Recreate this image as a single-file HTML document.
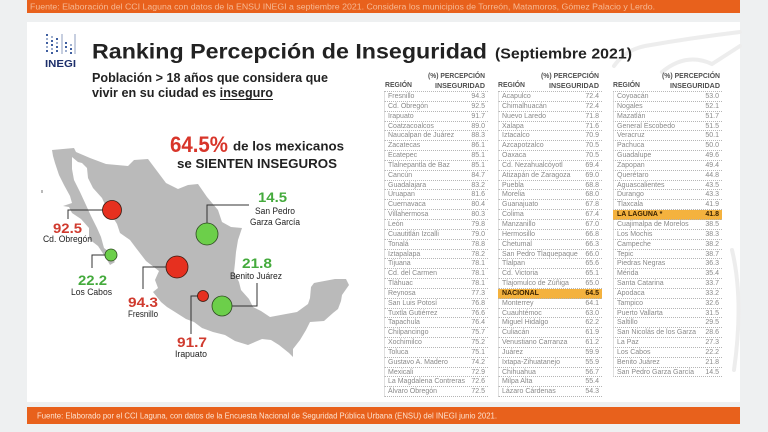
<!DOCTYPE html>
<html><head><meta charset="utf-8">
<style>
body{margin:0;width:768px;height:432px;overflow:hidden;background:#eef0f1;position:relative;font-family:"Liberation Sans",sans-serif}
svg{position:absolute;left:0;top:0}
.tb{position:absolute;top:91px;font-family:"Liberation Sans Narrow","Liberation Sans",sans-serif;font-size:7px;color:#8a8a8a;border-top:1px dotted #b8b8b8}
.tb div{height:9.85px;box-sizing:border-box;border-bottom:1px dotted #b5b5b5;border-left:1px solid #e0e0e0;display:flex;justify-content:space-between;padding:0 3px 0 3px;line-height:9.5px;white-space:nowrap}
.tb div.h{background:#f4b23e;color:#3a2200;font-weight:bold;border-left-color:#f4b23e}
</style></head>
<body>
<svg width="768" height="432" viewBox="0 0 768 432" xmlns="http://www.w3.org/2000/svg">
<!-- top bar -->
<rect x="27" y="0" width="713" height="13" fill="#e8611c"/>
<text x="30" y="9.5" font-size="8.5" fill="#f6b994" textLength="625" lengthAdjust="spacingAndGlyphs" font-family="Liberation Sans Narrow, Liberation Sans, sans-serif">Fuente: Elaboración del CCI Laguna con datos de la ENSU INEGI a septiembre 2021. Considera los municipios de Torreón, Matamoros, Gómez Palacio y Lerdo.</text>
<!-- card -->
<rect x="27" y="22" width="713" height="380" fill="#ffffff"/>
<!-- watermark -->
<g fill="none" stroke="#ededed" stroke-width="4" stroke-linecap="round">
<path d="M740 32 Q690 38 645 46 Q625 50 614 66"/>
<path d="M662 72 Q686 52 712 64 L740 46"/>
<path d="M732 250 Q744 300 734 370"/>
</g>
<!-- bottom bar -->
<rect x="27" y="407" width="713" height="17" fill="#e8611c"/>
<text x="37" y="418.5" font-size="8" fill="#fde3d0" textLength="460" lengthAdjust="spacingAndGlyphs" font-family="Liberation Sans Narrow, Liberation Sans, sans-serif">Fuente: Elaborado por el CCI Laguna, con datos de la Encuesta Nacional de Seguridad Pública Urbana (ENSU) del INEGI junio 2021.</text>

<!-- logo -->
<g fill="#3f5fa0">
<rect x="46" y="34" width="2" height="2"/><rect x="46" y="38" width="2" height="2" fill="#9fb0cf"/><rect x="46" y="42" width="2" height="2"/><rect x="46" y="46" width="2" height="2" fill="#9fb0cf"/><rect x="46" y="50" width="2" height="2"/>
<rect x="51" y="36" width="2" height="2" fill="#9fb0cf"/><rect x="51" y="40" width="2" height="2"/><rect x="51" y="44" width="2" height="2"/><rect x="51" y="48" width="2" height="2" fill="#9fb0cf"/><rect x="51" y="52" width="2" height="2"/>
<rect x="56" y="38" width="2" height="2"/><rect x="56" y="42" width="2" height="2" fill="#9fb0cf"/><rect x="56" y="46" width="2" height="2"/><rect x="56" y="50" width="2" height="2"/>
<rect x="61" y="34" width="2" height="20" fill="#c7cfe0"/>
<rect x="65" y="42" width="2" height="2"/><rect x="65" y="46" width="2" height="2"/><rect x="65" y="50" width="2" height="2" fill="#9fb0cf"/>
<rect x="70" y="44" width="2" height="2" fill="#9fb0cf"/><rect x="70" y="48" width="2" height="2"/><rect x="70" y="52" width="2" height="2"/>
<rect x="74" y="34" width="2" height="20" fill="#c7cfe0"/>
</g>
<text x="45" y="67" font-size="10" font-weight="bold" fill="#1d2f6b" textLength="31" lengthAdjust="spacingAndGlyphs">INEGI</text>

<!-- title -->
<text x="92" y="58.5" font-size="21.5" font-weight="bold" fill="#222" textLength="395" lengthAdjust="spacingAndGlyphs">Ranking Percepción de Inseguridad</text>
<text x="495" y="58.5" font-size="15" font-weight="bold" fill="#222" textLength="137" lengthAdjust="spacingAndGlyphs">(Septiembre 2021)</text>
<text x="92" y="82" font-size="12.5" font-weight="bold" fill="#222" textLength="236" lengthAdjust="spacingAndGlyphs">Población &gt; 18 años que considera que</text>
<text x="92" y="97" font-size="12.5" font-weight="bold" fill="#222" textLength="181" lengthAdjust="spacingAndGlyphs">vivir en su ciudad es inseguro</text>
<line x1="220" y1="99.5" x2="273" y2="99.5" stroke="#222" stroke-width="1"/>

<!-- headline over map -->
<text x="170" y="152" font-size="22" font-weight="bold" fill="#d8352a" textLength="58" lengthAdjust="spacingAndGlyphs">64.5%</text>
<text x="233" y="150.5" font-size="13" font-weight="bold" fill="#222" textLength="111" lengthAdjust="spacingAndGlyphs">de los mexicanos</text>
<text x="177" y="168" font-size="13" font-weight="bold" fill="#222" textLength="160" lengthAdjust="spacingAndGlyphs">se SIENTEN INSEGUROS</text>

<!-- map -->
<path fill="#bababa" d="M52,150 L74,148 L76,152 L90,158 L106,164 L128,166 L134,160 L148,159 L166,183 L178,189 L188,185 L198,184 L207,197 L218,210 L222,222 L231,227 L242,228 L238,240 L236,252 L235,263 L234,272 L239,282 L241,290 L249,299 L253,307 L261,311 L270,317 L286,314 L297,312 L308,304 L310,298 L311,287 L314,283 L319,282 L335,279 L346,279 L349,285 L342,295 L341,301 L338,309 L333,313 L324,321 L310,322 L306,330 L300,340 L293,349 L293,357 L289,353 L279,345 L271,340 L262,339 L248,345 L235,341 L225,335 L213,332 L202,328 L194,322 L186,319 L175,312 L167,307 L161,302 L153,292 L158,288 L155,280 L159,271 L146,261 L136,248 L130,240 L120,233 L117,224 L112,216 L107,209 L102,198 L93,188 L88,178 L87,168 L82,163 L78,162 L72,157 L72,169 L74,180 L80,192 L86,205 L91,216 L97,228 L101,237 L104,248 L108,251 L111,258 L115,262 L110,265 L106,258 L98,246 L89,239 L89,228 L81,219 L72,213 L69,207 L63,206 L72,203 L70,196 L64,185 L59,175 L55,163 L53,156 Z"/>
<rect x="41" y="190" width="2" height="3" fill="#bababa"/>

<!-- leaders -->
<g fill="none" stroke="#333" stroke-width="1">
<polyline points="103,210 68,210 68,219"/>
<polyline points="105,255 92,255 92,268"/>
<polyline points="166,267 143,267 143,289"/>
<polyline points="207,223 207,205 249,205"/>
<polyline points="232,306 257,306 257,283"/>
<polyline points="197.5,296 191,296 191,334"/>
</g>
<!-- circles -->
<circle cx="112" cy="210" r="9.5" fill="#e6301f" stroke="#3a1a10" stroke-width="0.8"/>
<circle cx="111" cy="255" r="6" fill="#6ccf4a" stroke="#2d4a20" stroke-width="0.8"/>
<circle cx="177" cy="267" r="11" fill="#e6301f" stroke="#3a1a10" stroke-width="0.8"/>
<circle cx="207" cy="234" r="11" fill="#6ccf4a" stroke="#2d4a20" stroke-width="0.8"/>
<circle cx="222" cy="306" r="10" fill="#6ccf4a" stroke="#2d4a20" stroke-width="0.8"/>
<circle cx="203" cy="296" r="5.5" fill="#e6301f" stroke="#3a1a10" stroke-width="0.8"/>

<!-- labels -->
<g font-size="14" font-weight="bold">
<text x="258" y="202" fill="#44aa3c" textLength="29" lengthAdjust="spacingAndGlyphs">14.5</text>
<text x="53" y="233" fill="#d03a2e" textLength="29" lengthAdjust="spacingAndGlyphs">92.5</text>
<text x="78" y="285" fill="#44aa3c" textLength="29" lengthAdjust="spacingAndGlyphs">22.2</text>
<text x="128" y="307" fill="#d03a2e" textLength="30" lengthAdjust="spacingAndGlyphs">94.3</text>
<text x="242" y="268" fill="#44aa3c" textLength="30" lengthAdjust="spacingAndGlyphs">21.8</text>
<text x="177" y="347" fill="#d03a2e" textLength="30" lengthAdjust="spacingAndGlyphs">91.7</text>
</g>
<g font-size="9" fill="#222">
<text x="255" y="214" textLength="40" lengthAdjust="spacingAndGlyphs">San Pedro</text>
<text x="250" y="225" textLength="50" lengthAdjust="spacingAndGlyphs">Garza García</text>
<text x="43" y="242" textLength="49" lengthAdjust="spacingAndGlyphs">Cd. Obregón</text>
<text x="71" y="295" textLength="41" lengthAdjust="spacingAndGlyphs">Los Cabos</text>
<text x="128" y="317" textLength="30" lengthAdjust="spacingAndGlyphs">Fresnillo</text>
<text x="230" y="279" textLength="52" lengthAdjust="spacingAndGlyphs">Benito Juárez</text>
<text x="175" y="357" textLength="32" lengthAdjust="spacingAndGlyphs">Irapuato</text>
</g>

<!-- table headers -->
<g font-size="7.5" font-weight="bold" fill="#505050">
<text x="385" y="87" textLength="27" lengthAdjust="spacingAndGlyphs">REGIÓN</text>
<text x="428" y="78" textLength="57" lengthAdjust="spacingAndGlyphs">(%) PERCEPCIÓN</text>
<text x="435" y="88" textLength="50" lengthAdjust="spacingAndGlyphs">INSEGURIDAD</text>
<text x="498" y="87" textLength="27" lengthAdjust="spacingAndGlyphs">REGIÓN</text>
<text x="541" y="78" textLength="58" lengthAdjust="spacingAndGlyphs">(%) PERCEPCIÓN</text>
<text x="549" y="88" textLength="50" lengthAdjust="spacingAndGlyphs">INSEGURIDAD</text>
<text x="613" y="87" textLength="27" lengthAdjust="spacingAndGlyphs">REGIÓN</text>
<text x="662" y="78" textLength="58" lengthAdjust="spacingAndGlyphs">(%) PERCEPCIÓN</text>
<text x="670" y="88" textLength="50" lengthAdjust="spacingAndGlyphs">INSEGURIDAD</text>
</g>
</svg>

<div class="tb" style="left:384px;width:104px">
<div><span>Fresnillo</span><span>94.3</span></div>
<div><span>Cd. Obregón</span><span>92.5</span></div>
<div><span>Irapuato</span><span>91.7</span></div>
<div><span>Coatzacoalcos</span><span>89.0</span></div>
<div><span>Naucalpan de Juárez</span><span>88.3</span></div>
<div><span>Zacatecas</span><span>86.1</span></div>
<div><span>Ecatepec</span><span>85.1</span></div>
<div><span>Tlalnepantla de Baz</span><span>85.1</span></div>
<div><span>Cancún</span><span>84.7</span></div>
<div><span>Guadalajara</span><span>83.2</span></div>
<div><span>Uruapan</span><span>81.6</span></div>
<div><span>Cuernavaca</span><span>80.4</span></div>
<div><span>Villahermosa</span><span>80.3</span></div>
<div><span>León</span><span>79.8</span></div>
<div><span>Cuautitlán Izcalli</span><span>79.0</span></div>
<div><span>Tonalá</span><span>78.8</span></div>
<div><span>Iztapalapa</span><span>78.2</span></div>
<div><span>Tijuana</span><span>78.1</span></div>
<div><span>Cd. del Carmen</span><span>78.1</span></div>
<div><span>Tláhuac</span><span>78.1</span></div>
<div><span>Reynosa</span><span>77.3</span></div>
<div><span>San Luis Potosí</span><span>76.8</span></div>
<div><span>Tuxtla Gutiérrez</span><span>76.6</span></div>
<div><span>Tapachula</span><span>76.4</span></div>
<div><span>Chilpancingo</span><span>75.7</span></div>
<div><span>Xochimilco</span><span>75.2</span></div>
<div><span>Toluca</span><span>75.1</span></div>
<div><span>Gustavo A. Madero</span><span>74.2</span></div>
<div><span>Mexicali</span><span>72.9</span></div>
<div><span>La Magdalena Contreras</span><span>72.6</span></div>
<div><span>Álvaro Obregón</span><span>72.5</span></div>
</div>

<div class="tb" style="left:498px;width:104px">
<div><span>Acapulco</span><span>72.4</span></div>
<div><span>Chimalhuacán</span><span>72.4</span></div>
<div><span>Nuevo Laredo</span><span>71.8</span></div>
<div><span>Xalapa</span><span>71.6</span></div>
<div><span>Iztacalco</span><span>70.9</span></div>
<div><span>Azcapotzalco</span><span>70.5</span></div>
<div><span>Oaxaca</span><span>70.5</span></div>
<div><span>Cd. Nezahualcóyotl</span><span>69.4</span></div>
<div><span>Atizapán de Zaragoza</span><span>69.0</span></div>
<div><span>Puebla</span><span>68.8</span></div>
<div><span>Morelia</span><span>68.0</span></div>
<div><span>Guanajuato</span><span>67.8</span></div>
<div><span>Colima</span><span>67.4</span></div>
<div><span>Manzanillo</span><span>67.0</span></div>
<div><span>Hermosillo</span><span>66.8</span></div>
<div><span>Chetumal</span><span>66.3</span></div>
<div><span>San Pedro Tlaquepaque</span><span>66.0</span></div>
<div><span>Tlalpan</span><span>65.6</span></div>
<div><span>Cd. Victoria</span><span>65.1</span></div>
<div><span>Tlajomulco de Zúñiga</span><span>65.0</span></div>
<div class="h"><span>NACIONAL</span><span>64.5</span></div>
<div><span>Monterrey</span><span>64.1</span></div>
<div><span>Cuauhtémoc</span><span>63.0</span></div>
<div><span>Miguel Hidalgo</span><span>62.2</span></div>
<div><span>Culiacán</span><span>61.9</span></div>
<div><span>Venustiano Carranza</span><span>61.2</span></div>
<div><span>Juárez</span><span>59.9</span></div>
<div><span>Ixtapa-Zihuatanejo</span><span>55.9</span></div>
<div><span>Chihuahua</span><span>56.7</span></div>
<div><span>Milpa Alta</span><span>55.4</span></div>
<div><span>Lázaro Cárdenas</span><span>54.3</span></div>
</div>

<div class="tb" style="left:613px;width:109px">
<div><span>Coyoacán</span><span>53.0</span></div>
<div><span>Nogales</span><span>52.1</span></div>
<div><span>Mazatlán</span><span>51.7</span></div>
<div><span>General Escobedo</span><span>51.5</span></div>
<div><span>Veracruz</span><span>50.1</span></div>
<div><span>Pachuca</span><span>50.0</span></div>
<div><span>Guadalupe</span><span>49.6</span></div>
<div><span>Zapopan</span><span>49.4</span></div>
<div><span>Querétaro</span><span>44.8</span></div>
<div><span>Aguascalientes</span><span>43.5</span></div>
<div><span>Durango</span><span>43.3</span></div>
<div><span>Tlaxcala</span><span>41.9</span></div>
<div class="h"><span>LA LAGUNA *</span><span>41.8</span></div>
<div><span>Cuajimalpa de Morelos</span><span>38.5</span></div>
<div><span>Los Mochis</span><span>38.3</span></div>
<div><span>Campeche</span><span>38.2</span></div>
<div><span>Tepic</span><span>38.7</span></div>
<div><span>Piedras Negras</span><span>36.3</span></div>
<div><span>Mérida</span><span>35.4</span></div>
<div><span>Santa Catarina</span><span>33.7</span></div>
<div><span>Apodaca</span><span>33.2</span></div>
<div><span>Tampico</span><span>32.6</span></div>
<div><span>Puerto Vallarta</span><span>31.5</span></div>
<div><span>Saltillo</span><span>29.5</span></div>
<div><span>San Nicolás de los Garza</span><span>28.6</span></div>
<div><span>La Paz</span><span>27.3</span></div>
<div><span>Los Cabos</span><span>22.2</span></div>
<div><span>Benito Juárez</span><span>21.8</span></div>
<div><span>San Pedro Garza García</span><span>14.5</span></div>
</div>
</body></html>
